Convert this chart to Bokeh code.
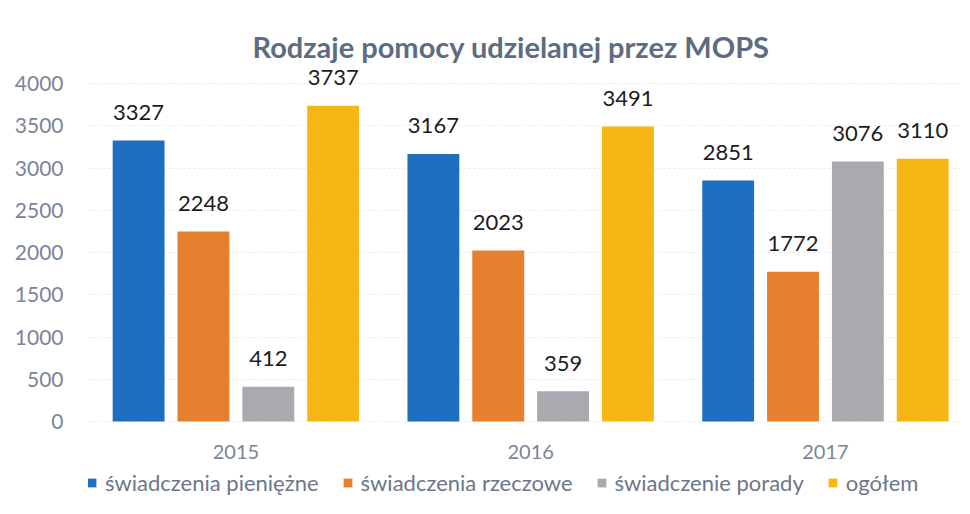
import numpy as np
from bokeh.plotting import figure
from bokeh.models import (ColumnDataSource, Range1d, FixedTicker, Legend, LegendItem)
from bokeh.core.properties import value
from bokeh.embed import file_html
from bokeh.resources import INLINE

years = [2015, 2016, 2017]
year_labels = ["2015", "2016", "2017"]
series_names = ["świadczenia pieniężne", "świadczenia rzeczowe", "świadczenie porady", "ogółem"]
pieniezne = [3327, 3167, 2851]
rzeczowe = [2248, 2023, 1772]
porady = [412, 359, 3076]
ogolem = [3737, 3491, 3110]
y_ticks = [0, 500, 1000, 1500, 2000, 2500, 3000, 3500, 4000]

series_values = [pieniezne, rzeczowe, porady, ogolem]
colors = ["#1f6fc0", "#e5802f", "#a9aab0", "#f6b714"]

FONT = "Lato"
AXIS_COLOR = "#7a8597"

# frame extends below zero so that the category labels and the legend live inside it
p = figure(frame_width=874, frame_height=442, output_backend="svg", toolbar_location=None,
           x_range=Range1d(2014.5, 2017.465), y_range=Range1d(-1006, 4225),
           min_border_left=88, min_border_right=0, min_border_top=64, min_border_bottom=0)

p.title.text = "Rodzaje pomocy udzielanej przez MOPS"
p.title.align = "left"
p.title.offset = 164
p.title.text_font = FONT
p.title.text_font_size = "29px"
p.title.text_font_style = "bold"
p.title.text_color = "#5d6c80"
p.title.standoff = 2

p.outline_line_color = None
p.background_fill_color = "white"
p.border_fill_color = "white"

step = 0.22
bar_w = 0.176
renderers = []
for i, (vals, col) in enumerate(zip(series_values, colors)):
    off = (i - 1.5) * step
    xs = np.array(years, dtype=float) + off
    src = ColumnDataSource(dict(x=xs, top=vals, lab=[str(v) for v in vals]))
    r = p.vbar(x="x", top="top", bottom=0, width=bar_w, source=src,
               fill_color=col, line_color=None)
    renderers.append(r)
    p.text(x="x", y="top", text="lab", source=src, text_align="center",
           text_baseline="alphabetic", y_offset=-28,
           text_font=value(FONT), text_font_size="22px", text_color="#1c1c1c")

# category labels under the bars
cat_src = ColumnDataSource(dict(x=years, y=[0] * len(years), lab=year_labels))
p.text(x="x", y="y", text="lab", source=cat_src, text_align="center",
       text_baseline="middle", y_offset=31,
       text_font=value(FONT), text_font_size="20px", text_color=AXIS_COLOR)

p.yaxis.ticker = FixedTicker(ticks=y_ticks)
p.yaxis.axis_line_color = None
p.yaxis.major_tick_line_color = None
p.yaxis.minor_tick_line_color = None
p.yaxis.major_label_text_font = FONT
p.yaxis.major_label_text_font_size = "21px"
p.yaxis.major_label_text_color = AXIS_COLOR
p.yaxis.major_label_standoff = 19

p.xaxis.visible = False

p.xgrid.grid_line_color = None
p.ygrid.grid_line_color = "#e6e6ec"
p.ygrid.grid_line_dash = "2 3"

legend = Legend(items=[LegendItem(label=n, renderers=[r]) for n, r in zip(series_names, renderers)],
                orientation="horizontal", location=(-2, 10),
                border_line_color=None, background_fill_alpha=0,
                label_text_font=FONT, label_text_font_size="22px",
                label_text_color="#6b7789",
                glyph_width=11, glyph_height=11, label_standoff=8,
                spacing=23, padding=0, margin=0)
p.add_layout(legend)

open("out.html", "w").write(file_html(p, INLINE))
